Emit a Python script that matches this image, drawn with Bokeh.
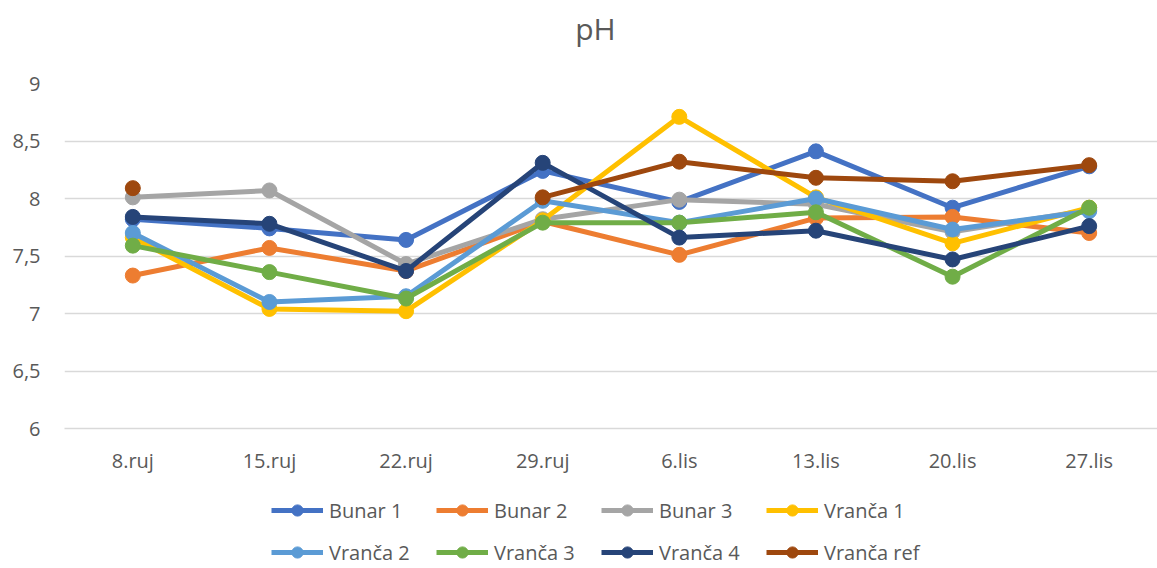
from bokeh.plotting import figure
from bokeh.layouts import column
from bokeh.models import FactorRange, Range1d, FixedTicker, CustomJSTickFormatter, Legend, LegendItem, Label
from bokeh.embed import file_html
from bokeh.resources import INLINE
import numpy as np

dates = ["8.ruj", "15.ruj", "22.ruj", "29.ruj", "6.lis", "13.lis", "20.lis", "27.lis"]
bunar1 = [7.82, 7.74, 7.64, 8.24, 7.97, 8.41, 7.92, 8.28]
bunar2 = [7.33, 7.57, 7.37, 7.80, 7.51, 7.83, 7.84, 7.70]
bunar3 = [8.01, 8.07, 7.43, 7.82, 7.99, 7.95, 7.71, 7.90]
vranca1 = [7.66, 7.04, 7.02, 7.81, 8.71, 8.01, 7.61, 7.92]
vranca2 = [7.70, 7.10, 7.15, 7.98, 7.79, 8.00, 7.73, 7.89]
vranca3 = [7.59, 7.36, 7.13, 7.79, 7.79, 7.88, 7.32, 7.92]
vranca4 = [7.84, 7.78, 7.37, 8.31, 7.66, 7.72, 7.47, 7.76]
vranca_ref = [8.09, np.nan, np.nan, 8.01, 8.32, 8.18, 8.15, 8.29]

series_names = ["Bunar 1", "Bunar 2", "Bunar 3", "Vranča 1", "Vranča 2", "Vranča 3", "Vranča 4", "Vranča ref"]
series_values = [bunar1, bunar2, bunar3, vranca1, vranca2, vranca3, vranca4, vranca_ref]
colors = ["#4472C4", "#ED7D31", "#A5A5A5", "#FFC000", "#5B9BD5", "#70AD47", "#264478", "#9E480E"]
y_ticks = [6, 6.5, 7, 7.5, 8, 8.5, 9]
title_text = "pH"

FONT = "Open Sans"
TXT = "#595959"
W = 1157
LEFT = 64

# title strip
pt = figure(width=W, height=60, output_backend="svg", toolbar_location=None,
            x_axis_location=None, y_axis_location=None,
            min_border_left=0, min_border_right=0, min_border_top=0, min_border_bottom=0)
pt.outline_line_color = None
pt.xgrid.grid_line_color = None
pt.ygrid.grid_line_color = None
pt.add_layout(Label(x=531, y=32, x_units="screen", y_units="screen", text=title_text,
                    text_font=FONT, text_font_size="30px", text_color=TXT,
                    text_align="center", text_baseline="middle"))

# main chart
p = figure(width=W, height=428, x_range=FactorRange(*dates), y_range=Range1d(6, 9),
           output_backend="svg", toolbar_location=None,
           min_border_left=LEFT, min_border_right=0, min_border_top=23, min_border_bottom=60)
p.outline_line_color = None
p.background_fill_color = "white"

p.xgrid.grid_line_color = None
p.ygrid.grid_line_color = "#D9D9D9"
p.ygrid.grid_line_width = 1.5

p.yaxis.ticker = FixedTicker(ticks=y_ticks)
p.yaxis.formatter = CustomJSTickFormatter(code="return tick.toString().replace('.', ',');")
p.yaxis.axis_line_color = None
p.yaxis.major_tick_line_color = None
p.yaxis.minor_tick_line_color = None
p.yaxis.major_label_text_font = FONT
p.yaxis.major_label_text_font_size = "20px"
p.yaxis.major_label_text_color = TXT
p.yaxis.major_label_standoff = 18

p.xaxis.axis_line_color = "#D9D9D9"
p.xaxis.axis_line_width = 1.5
p.xaxis.major_tick_line_color = None
p.xaxis.minor_tick_line_color = None
p.xaxis.major_label_text_font = FONT
p.xaxis.major_label_text_font_size = "20px"
p.xaxis.major_label_text_color = TXT
p.xaxis.major_label_standoff = 12

# legend strip (series drawn outside its visible range, only the legend shows)
pl = figure(width=W, height=80, x_range=FactorRange(*dates), y_range=Range1d(100, 101),
            output_backend="svg", toolbar_location=None,
            x_axis_location=None, y_axis_location=None,
            min_border_left=0, min_border_right=0, min_border_top=0, min_border_bottom=0)
pl.outline_line_color = None
pl.xgrid.grid_line_color = None
pl.ygrid.grid_line_color = None

items = []
for name, vals, c in zip(series_names, series_values, colors):
    p.line(dates, vals, line_color=c, line_width=5)
    p.scatter(dates, vals, marker="circle", size=15, fill_color=c, line_color=c)
    l1 = pl.line(dates, vals, line_color=c, line_width=5)
    l2 = pl.scatter(dates, vals, marker="circle", size=15, fill_color=c, line_color=c)
    items.append(LegendItem(label=name, renderers=[l1, l2]))

legend = Legend(items=items, orientation="horizontal", ncols=4, location=(207, 2),
                label_text_font=FONT, label_text_font_size="20px", label_text_color=TXT,
                glyph_width=52, glyph_height=28, label_standoff=6, label_width=93, spacing=14,
                padding=0, margin=0, border_line_color=None, background_fill_alpha=0)
pl.add_layout(legend, "center")

layout = column(pt, p, pl, spacing=0)
open("out.html", "w").write(file_html(layout, INLINE))
